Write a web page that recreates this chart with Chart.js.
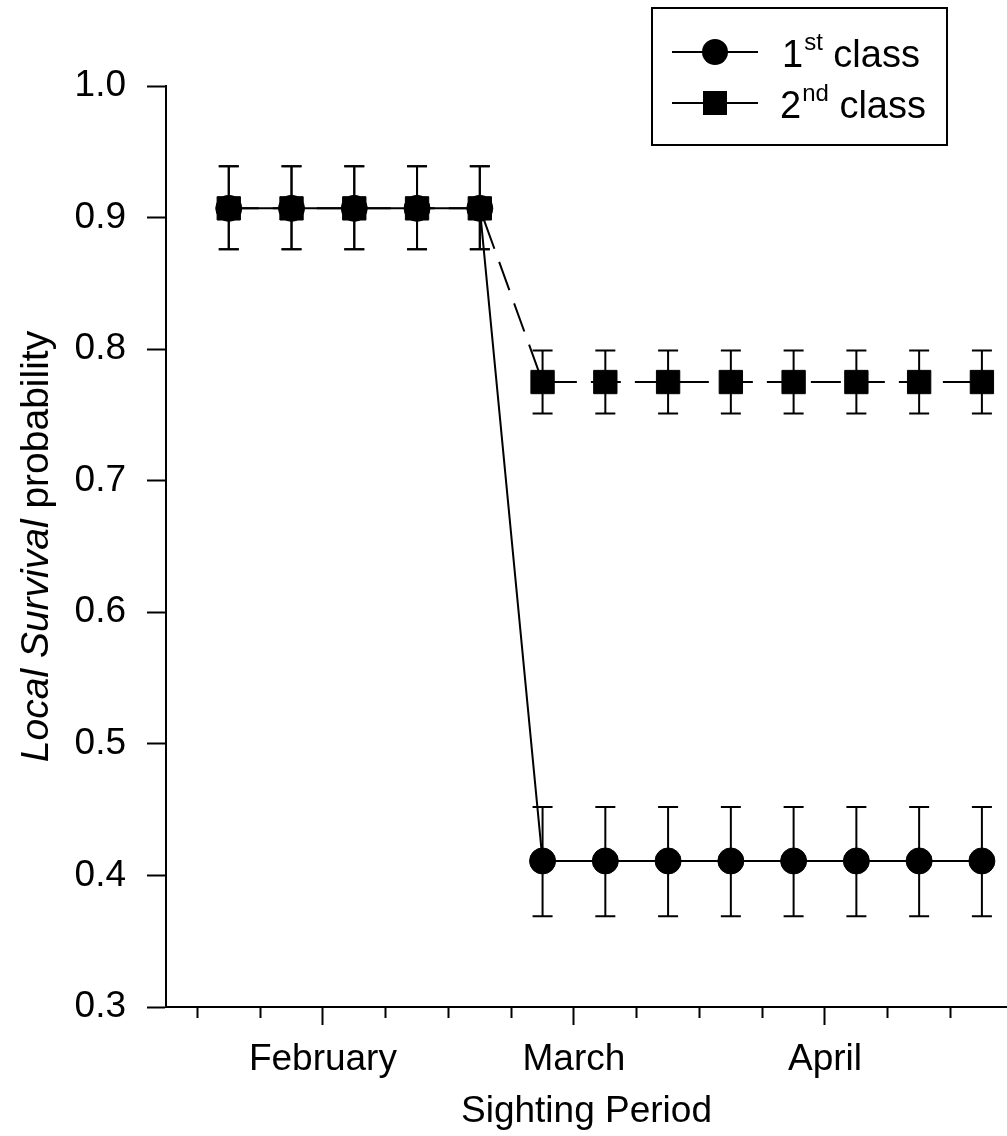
<!DOCTYPE html>
<html>
<head>
<meta charset="utf-8">
<script src="https://cdn.jsdelivr.net/npm/chart.js@4.4.1/dist/chart.umd.min.js"></script>
<style>
    html, body { margin: 0; padding: 0; background: #fff; }
    #wrap { width: 1007px; height: 1136px; }
</style>
</head>
<body>
<div id="wrap"><canvas id="chart" width="1007" height="1136"></canvas></div>
<script>
// sighting occasions (x), survival estimates and their error bars
const occasions = [1, 2, 3, 4, 5, 6, 7, 8, 9, 10, 11, 12, 13];
const firstClass = [0.907, 0.907, 0.907, 0.907, 0.907, 0.411, 0.411, 0.411, 0.411, 0.411, 0.411, 0.411, 0.411];
const firstLow = [0.876, 0.876, 0.876, 0.876, 0.876, 0.369, 0.369, 0.369, 0.369, 0.369, 0.369, 0.369, 0.369];
const firstHigh = [0.939, 0.939, 0.939, 0.939, 0.939, 0.452, 0.452, 0.452, 0.452, 0.452, 0.452, 0.452, 0.452];
const secondClass = [0.907, 0.907, 0.907, 0.907, 0.907, 0.775, 0.775, 0.775, 0.775, 0.775, 0.775, 0.775, 0.775];
const secondLow = [0.876, 0.876, 0.876, 0.876, 0.876, 0.751, 0.751, 0.751, 0.751, 0.751, 0.751, 0.751, 0.751];
const secondHigh = [0.939, 0.939, 0.939, 0.939, 0.939, 0.799, 0.799, 0.799, 0.799, 0.799, 0.799, 0.799, 0.799];

const xTickValues = [0.5, 1.5, 2.5, 3.5, 4.5, 5.5, 6.5, 7.5, 8.5, 9.5, 10.5, 11.5, 12.5];
const monthTicks = [2.5, 6.5, 10.5];
const monthNames = ['February', 'March', 'April'];

const xTitle = 'Sighting Period';
const yTitleParts = [['Local Survival', 'italic'], [' probability', 'normal']];
const legendItems = [
    { base: '1', sup: 'st', rest: ' class', style: 'circle' },
    { base: '2', sup: 'nd', rest: ' class', style: 'rect' }
];

const FONT = '"Liberation Sans", Arial, sans-serif';
Chart.defaults.font.family = FONT;
Chart.defaults.color = '#000';

const errorBars = {
    id: 'errorBars',
    beforeDatasetsDraw(chart) {
        const { ctx, scales: { x, y } } = chart;
        const bars = [[firstLow, firstHigh], [secondLow, secondHigh]];
        ctx.save();
        ctx.strokeStyle = '#000';
        ctx.lineWidth = 2;
        bars.forEach(([lo, hi]) => {
            occasions.forEach((o, i) => {
                const px = x.getPixelForValue(o);
                const y1 = y.getPixelForValue(lo[i]);
                const y2 = y.getPixelForValue(hi[i]);
                ctx.beginPath();
                ctx.moveTo(px, y1); ctx.lineTo(px, y2);
                ctx.moveTo(px - 10, y1); ctx.lineTo(px + 10, y1);
                ctx.moveTo(px - 10, y2); ctx.lineTo(px + 10, y2);
                ctx.stroke();
            });
        });
        ctx.restore();
    }
};

const extras = {
    id: 'extras',
    afterDraw(chart) {
        const { ctx, chartArea } = chart;
        ctx.save();

        // y title, mixed italic / normal
        const size = 39;
        ctx.translate(48, (chartArea.top + chartArea.bottom) / 2);
        ctx.rotate(-Math.PI / 2);
        ctx.fillStyle = '#000';
        ctx.textBaseline = 'alphabetic';
        let total = 0;
        yTitleParts.forEach(([t, st]) => {
            ctx.font = `${st} ${size}px ${FONT}`;
            total += ctx.measureText(t).width;
        });
        let cx = -total / 2;
        yTitleParts.forEach(([t, st]) => {
            ctx.font = `${st} ${size}px ${FONT}`;
            ctx.fillText(t, cx, 0);
            cx += ctx.measureText(t).width;
        });
        ctx.restore();

        // legend box
        ctx.save();
        ctx.strokeStyle = '#000';
        ctx.fillStyle = '#000';
        ctx.lineWidth = 2;
        ctx.strokeRect(652, 8, 295, 137);
        const rows = [52, 103];
        legendItems.forEach((item, i) => {
            const ry = rows[i];
            ctx.beginPath();
            ctx.moveTo(672, ry); ctx.lineTo(758, ry);
            ctx.stroke();
            ctx.beginPath();
            if (item.style === 'circle') {
                ctx.arc(715, ry, 13, 0, Math.PI * 2);
            } else {
                ctx.rect(715 - 12, ry - 12, 24, 24);
            }
            ctx.fill();
            let tx = i === 0 ? 782 : 780;
            ctx.textBaseline = 'alphabetic';
            ctx.font = `38px ${FONT}`;
            ctx.fillText(item.base, tx, ry + 15);
            tx += ctx.measureText(item.base).width + 1;
            ctx.font = `24px ${FONT}`;
            ctx.fillText(item.sup, tx, ry - 2);
            tx += ctx.measureText(item.sup).width;
            ctx.font = `38px ${FONT}`;
            ctx.fillText(item.rest, tx, ry + 15);
        });
        ctx.restore();
    }
};

new Chart(document.getElementById('chart'), {
    type: 'line',
    data: {
        datasets: [
            {
                label: '1st class',
                data: occasions.map((o, i) => ({ x: o, y: firstClass[i] })),
                borderColor: '#000',
                borderWidth: 2,
                pointStyle: 'circle',
                pointRadius: 13,
                pointBackgroundColor: '#000',
                pointBorderColor: '#000',
                pointBorderWidth: 1
            },
            {
                label: '2nd class',
                data: occasions.map((o, i) => ({ x: o, y: secondClass[i] })),
                borderColor: '#000',
                borderWidth: 2,
                borderDash: [30, 14],
                pointStyle: 'rect',
                pointRadius: 16.5,
                pointBackgroundColor: '#000',
                pointBorderColor: '#000',
                pointBorderWidth: 1
            }
        ]
    },
    options: {
        responsive: false,
        devicePixelRatio: 1,
        animation: false,
        layout: { autoPadding: false, padding: { top: 86, right: 0, bottom: 0, left: 0 } },
        plugins: {
            legend: { display: false },
            tooltip: { enabled: false }
        },
        scales: {
            x: {
                type: 'linear',
                min: 0,
                max: 13.4,
                afterBuildTicks: scale => { scale.ticks = xTickValues.map(v => ({ value: v })); },
                afterFit: scale => { scale.height = 129; },
                border: { display: true, color: '#000', width: 2 },
                grid: {
                    drawOnChartArea: false,
                    drawTicks: true,
                    tickLength: 18,
                    tickColor: '#000',
                    tickWidth: 2,
                    tickBorderDash: ctx => (ctx.tick && monthTicks.includes(ctx.tick.value)) ? [] : [10, 40]
                },
                ticks: {
                    autoSkip: false,
                    maxRotation: 0,
                    padding: 13,
                    font: { size: 37 },
                    color: '#000',
                    callback: v => {
                        const i = monthTicks.indexOf(v);
                        return i >= 0 ? monthNames[i] : '';
                    }
                },
                title: {
                    display: true,
                    text: xTitle,
                    color: '#000',
                    font: { size: 37 },
                    padding: { top: 0, bottom: 2 }
                }
            },
            y: {
                min: 0.3,
                max: 1.0,
                afterFit: scale => { scale.width = 166; },
                border: { display: true, color: '#000', width: 2 },
                grid: {
                    drawOnChartArea: false,
                    drawTicks: true,
                    tickLength: 19,
                    tickColor: '#000',
                    tickWidth: 2
                },
                ticks: {
                    stepSize: 0.1,
                    padding: 21,
                    font: { size: 37 },
                    color: '#000',
                    callback: v => v.toFixed(1)
                }
            }
        }
    },
    plugins: [errorBars, extras]
});
</script>
</body>
</html>
